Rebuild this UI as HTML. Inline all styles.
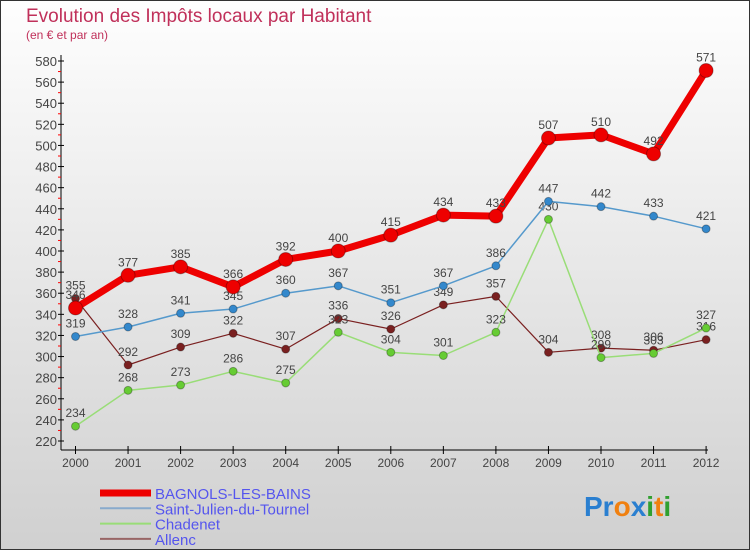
<!DOCTYPE html>
<html><head><meta charset="utf-8"><style>
body{margin:0}
#wrap{width:750px;height:550px;position:relative;box-sizing:border-box;border:1px solid #333;background:linear-gradient(#fefefe,#d0d0d0);font-family:"Liberation Sans",sans-serif;overflow:hidden}
</style></head><body>
<div id="wrap">
<svg id="chart" width="750" height="550" style="position:absolute;left:-1px;top:-1px">
<text x="26" y="22" font-size="19" fill="#c0305a">Evolution des Impôts locaux par Habitant</text>
<text x="26" y="39" font-size="12" fill="#c0305a">(en € et par an)</text>
<g id="axes"></g><g id="series"></g><g id="legend"></g>
<text x="584" y="516" font-size="28" font-weight="bold"><tspan fill="#2a7fd0">Pr</tspan><tspan fill="#f08010">o</tspan><tspan fill="#2a7fd0">x</tspan><tspan fill="#30a030">i</tspan><tspan fill="#f08010">t</tspan><tspan fill="#30a030">i</tspan></text>
</svg>
</div>
<script>
const years=[2000,2001,2002,2003,2004,2005,2006,2007,2008,2009,2010,2011,2012];
const yTicks=[220,240,260,280,300,320,340,360,380,400,420,440,460,480,500,520,540,560,580];
const bagnols=[346,377,385,366,392,400,415,434,433,507,510,492,571];
const stJulien=[319,328,341,345,360,367,351,367,386,447,442,433,421];
const chadenet=[234,268,273,286,275,323,304,301,323,430,299,303,327];
const allenc=[355,292,309,322,307,336,326,349,357,304,308,306,316];
const NS="http://www.w3.org/2000/svg";
const x=i=>75.5+i*52.55;
const y=v=>441-(v-220)*380/360;
function mk(tag,attrs,parent){const e=document.createElementNS(NS,tag);for(const k in attrs)e.setAttribute(k,attrs[k]);parent.appendChild(e);return e;}
const ax=document.getElementById('axes');
let l=mk('line',{x1:61,y1:55,x2:61,y2:450,stroke:'#000'},ax);


l=mk('line',{x1:61,y1:450,x2:708,y2:450,stroke:'#000'},ax);


yTicks.forEach((t,i)=>{
 mk('line',{x1:58,y1:y(t),x2:64,y2:y(t),stroke:'#000'},ax);
 if(i<yTicks.length-1)mk('line',{x1:58,y1:y(t+10),x2:61,y2:y(t+10),stroke:'#f00'},ax);
 const tx=mk('text',{x:57,y:y(t)+5,'font-size':13,fill:'#444','text-anchor':'end'},ax);
 tx.textContent=t;
 
 
});
years.forEach((yr,i)=>{
 mk('line',{x1:x(i),y1:446,x2:x(i),y2:454,stroke:'#000'},ax);
 const tx=mk('text',{x:x(i),y:467,'font-size':12,fill:'#444','text-anchor':'middle'},ax);
 tx.textContent=yr;
 
 
});
const sg=document.getElementById('series');
const defs=[
 {d:allenc,c:'#7a2020',w:1.2,r:4,name:'allenc'},
 {d:chadenet,c:'#99dd77',w:1.5,r:4,name:'chadenet',fill:'#66cc33'},
 {d:stJulien,c:'#5599cc',w:1.5,r:4,name:'saint-julien-du-tournel',fill:'#3388cc'},
 {d:bagnols,c:'#ee0000',w:7,r:7,name:'bagnols-les-bains'}];
defs.forEach(s=>{
 const g=mk('g',{},sg);
 
 
 const p=mk('polyline',{points:s.d.map((v,i)=>x(i)+','+y(v)).join(' '),fill:'none',stroke:s.c,'stroke-width':s.w,'stroke-linejoin':'round'},g);
 
 
 s.d.forEach((v,i)=>{
  const c=mk('circle',{cx:x(i),cy:y(v),r:s.r,fill:s.fill||s.c,stroke:'rgba(0,0,0,0.3)'},g);
  
  
  const t=mk('text',{x:x(i),y:y(v)-9,'font-size':12,fill:'#444','text-anchor':'middle'},g);
  t.textContent=v;
  
  
 });
});
const lg=document.getElementById('legend');
const leg=[['BAGNOLS-LES-BAINS','#ee0000',7],['Saint-Julien-du-Tournel','#88aacc',2],['Chadenet','#99dd77',2],['Allenc','#996666',2]];
leg.forEach((e,i)=>{
 const yy=493+i*15.3;
 const g=mk('g',{},lg);
 
 
 mk('line',{x1:100,y1:yy,x2:151,y2:yy,stroke:e[1],'stroke-width':e[2]},g);
 const t=mk('text',{x:155,y:yy+6,'font-size':15,fill:'#5555ee'},g);
 t.textContent=e[0];
});
</script>
</body></html>
